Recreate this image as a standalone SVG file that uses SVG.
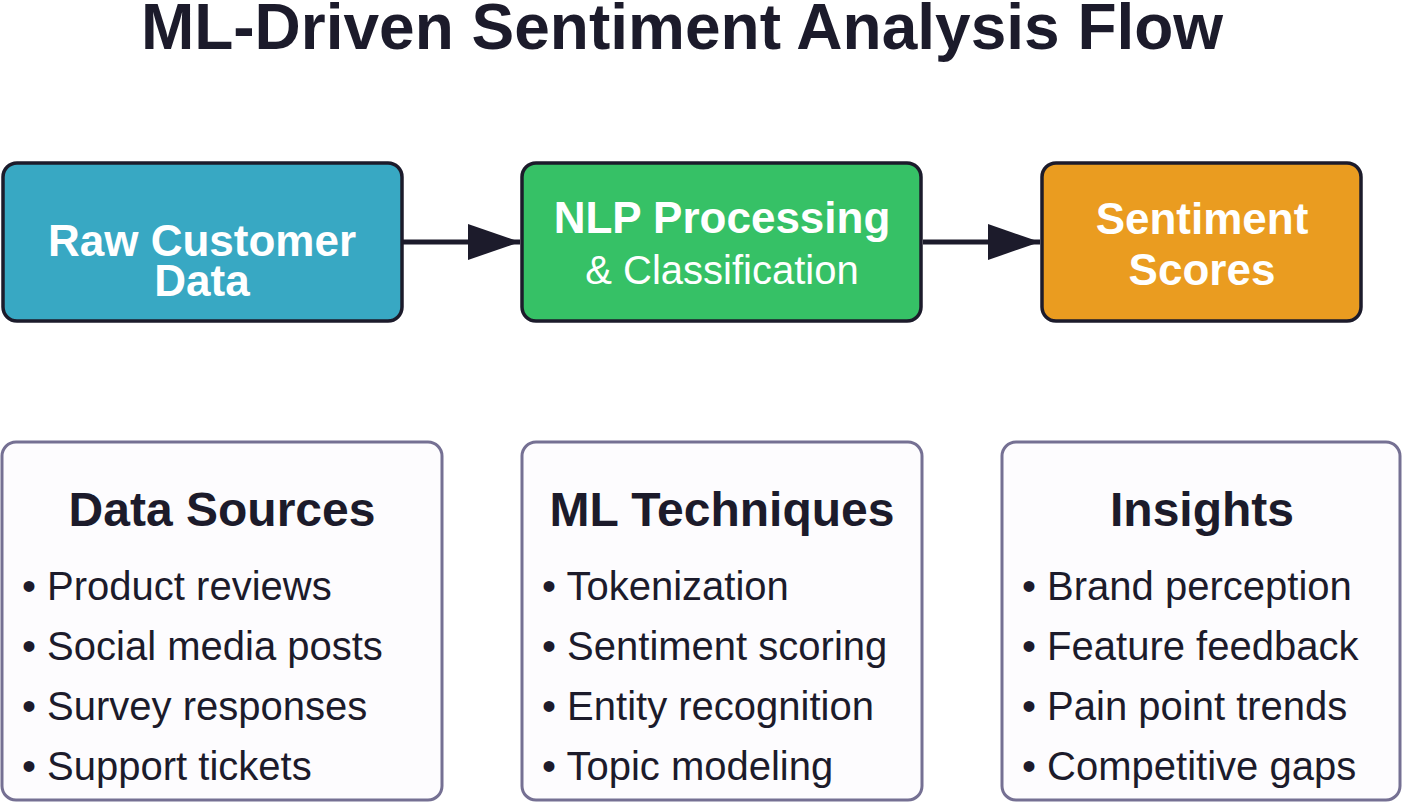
<svg xmlns="http://www.w3.org/2000/svg" width="1404" height="804" viewBox="0 0 1404 804">
  <style>
    text { font-family: "Liberation Sans", Arial, sans-serif; }
    .title { font-size: 64px; font-weight: bold; fill: #1c1b2b; text-anchor: middle; }
    .step { stroke: #1c1b2b; stroke-width: 3.5; }
    .lbl { font-size: 44px; font-weight: bold; fill: #ffffff; text-anchor: middle; }
    .sub { font-size: 40px; fill: #ffffff; text-anchor: middle; }
    .card { fill: #fdfcfe; stroke: #757093; stroke-width: 3; }
    .head { font-size: 48px; font-weight: bold; fill: #1c1b2b; text-anchor: middle; }
    .item { font-size: 40px; fill: #1c1b2b; }
    .conn { stroke: #1c1b2b; stroke-width: 5; fill: none; }
  </style>
  <defs>
    <marker id="arrow" markerUnits="userSpaceOnUse" markerWidth="52" markerHeight="36" refX="52" refY="18" orient="auto">
      <path d="M0,0 L52,18 L0,36 Z" fill="#1c1b2b"/>
    </marker>
  </defs>
  <rect width="1404" height="804" fill="#ffffff"/>
  <text class="title" x="682" y="49">ML-Driven Sentiment Analysis Flow</text>

  <g id="connectors">
    <line class="conn" x1="403" y1="242" x2="520" y2="242" marker-end="url(#arrow)"/>
    <line class="conn" x1="923" y1="242" x2="1040" y2="242" marker-end="url(#arrow)"/>
  </g>

  <g id="raw-data">
    <rect class="step" x="3" y="163" width="399" height="158" rx="14" fill="#38a8c3"/>
    <text class="lbl" x="202" y="256">Raw Customer</text>
    <text class="lbl" x="202" y="296">Data</text>
  </g>
  <g id="nlp">
    <rect class="step" x="522" y="163" width="399" height="158" rx="14" fill="#36c166"/>
    <text class="lbl" x="722" y="233">NLP Processing</text>
    <text class="sub" x="722" y="284">&amp; Classification</text>
  </g>
  <g id="scores">
    <rect class="step" x="1042" y="163" width="319" height="158" rx="14" fill="#ea9c20"/>
    <text class="lbl" x="1202" y="234">Sentiment</text>
    <text class="lbl" x="1202" y="285">Scores</text>
  </g>

  <g id="data-sources">
    <rect class="card" x="2" y="442" width="440" height="358" rx="14"/>
    <text class="head" x="222" y="526">Data Sources</text>
    <text class="item" x="22" y="600">• Product reviews</text>
    <text class="item" x="22" y="660">• Social media posts</text>
    <text class="item" x="22" y="720">• Survey responses</text>
    <text class="item" x="22" y="780">• Support tickets</text>
  </g>
  <g id="ml-techniques">
    <rect class="card" x="522" y="442" width="400" height="358" rx="14"/>
    <text class="head" x="722" y="526">ML Techniques</text>
    <text class="item" x="542" y="600">• Tokenization</text>
    <text class="item" x="542" y="660">• Sentiment scoring</text>
    <text class="item" x="542" y="720">• Entity recognition</text>
    <text class="item" x="542" y="780">• Topic modeling</text>
  </g>
  <g id="insights">
    <rect class="card" x="1002" y="442" width="398" height="358" rx="14"/>
    <text class="head" x="1202" y="526">Insights</text>
    <text class="item" x="1022" y="600">• Brand perception</text>
    <text class="item" x="1022" y="660">• Feature feedback</text>
    <text class="item" x="1022" y="720">• Pain point trends</text>
    <text class="item" x="1022" y="780">• Competitive gaps</text>
  </g>
</svg>
